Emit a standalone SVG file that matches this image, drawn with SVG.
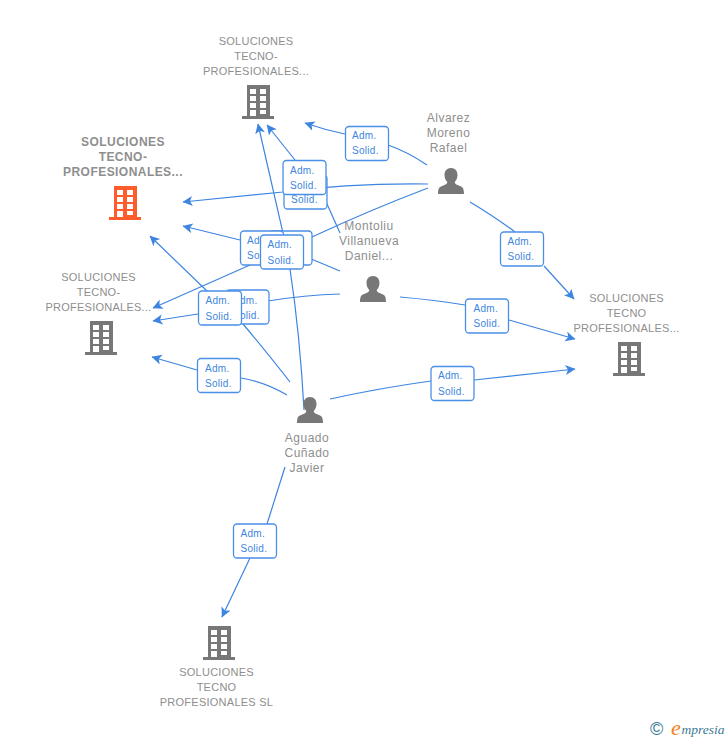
<svg xmlns="http://www.w3.org/2000/svg" width="728" height="740" viewBox="0 0 728 740">
<style>
text{font-family:"Liberation Sans",Arial,sans-serif}
.n{font-size:11px;fill:#8e8e8e;text-anchor:middle;letter-spacing:.25px}
.r{font-size:12px;font-weight:bold;letter-spacing:.45px}
.p{font-size:12px;fill:#8e8e8e;text-anchor:middle;letter-spacing:.5px}
.e{fill:none;stroke:#3d85e0;stroke-width:1.2;marker-end:url(#a)}
.s{fill:none;stroke:#3d85e0;stroke-width:1.2}
.b{fill:#fff;stroke:#4a8fe6;stroke-width:1.3}
.l{font-size:10px;fill:#3d85e0;letter-spacing:.3px}
.g{fill:#777}
.o{fill:#ff5c2e}
</style>
<defs>
<marker id="a" markerUnits="userSpaceOnUse" markerWidth="12" markerHeight="12" refX="9.5" refY="5" orient="auto"><path d="M0 0L10 5L0 10L2.500 5Z" fill="#3d85e0"/></marker>
<path id="bld" fill-rule="evenodd" d="M5 0H28V31H32V34H0V31H5ZM8 4V9H14V4ZM18 4V9H24V4ZM8 11V16H14V11ZM18 11V16H24V11ZM8 18V23H14V18ZM18 18V23H24V18ZM8 25V31H14V25ZM18 25V29H24V25Z"/>
<path id="per" d="M13 0C17.200 0 19.500 3.200 19.500 7C19.500 10.200 18.100 12.500 16.700 14C16.700 15.800 18.600 16.700 21.400 17.700C24.600 18.900 26 20 26 26H0C0 20 1.400 18.900 4.600 17.700C7.400 16.700 9.300 15.800 9.300 14C7.900 12.500 6.500 10.200 6.500 7C6.500 3.200 8.800 0 13 0Z"/>
</defs>
<g id="connectors">
<path class="s" d="M427 165Q408 152 388 145"/><path class="e" d="M345 134Q325 130 305 123"/>
<path class="e" d="M428 184Q350 183 283 192L183 202"/>
<path class="e" d="M428 188Q370 210 312 237L250 265L153 308"/>
<path class="s" d="M470 202Q495 217 515 232"/><path class="e" d="M544 266L574 299"/>
<path class="s" d="M340 233L323 195"/><path class="e" d="M295 160L267 125"/>
<path class="s" d="M340 271L304 256"/><path class="e" d="M240 240L183 226"/>
<path class="s" d="M340 294Q305 295 268 301"/><path class="e" d="M198 314L153 321"/>
<path class="s" d="M400 297Q435 300 465 305"/><path class="e" d="M509 320L575 339"/>
<path class="e" d="M304 410Q300 335 290 269L283 233L258 124"/>
<path class="s" d="M290 382Q265 350 243 324"/><path class="e" d="M207 291L150 236"/>
<path class="s" d="M287 395Q265 382 241 378"/><path class="e" d="M197 370L152 357"/>
<path class="s" d="M330 399Q380 388 431 381"/><path class="e" d="M474 380L575 369"/>
<path class="s" d="M285 467L267 524"/><path class="e" d="M250 558L222 617"/>
</g>
<g id="labels">
<g id="l1"><rect class="b" x="345.500" y="126.500" width="43" height="34" rx="3.500"/><text class="l" x="352" y="139">Adm.</text><text class="l" x="352" y="154">Solid.</text></g>
<g id="l2"><rect class="b" x="284" y="175" width="43" height="34" rx="3.500"/><text class="l" x="291" y="188">Adm.</text><text class="l" x="291" y="203">Solid.</text></g>
<g id="l3"><rect class="b" x="283" y="160.500" width="43" height="34" rx="3.500"/><text class="l" x="290" y="174">Adm.</text><text class="l" x="290" y="189">Solid.</text></g>
<g id="l4"><rect class="b" x="269" y="231" width="43" height="34" rx="3.500"/></g>
<g id="l5"><rect class="b" x="240.500" y="231" width="43" height="34" rx="3.500"/><text class="l" x="247" y="244">Adm.</text><text class="l" x="247" y="259">Solid.</text></g>
<g id="l6"><rect class="b" x="260.500" y="235" width="43" height="34" rx="3.500"/><text class="l" x="267.500" y="248">Adm.</text><text class="l" x="267.500" y="264">Solid.</text></g>
<g id="l7"><rect class="b" x="226" y="290" width="43" height="34" rx="3.500"/><text class="l" x="233" y="304">Adm.</text><text class="l" x="233" y="319">Solid.</text></g>
<g id="l8"><rect class="b" x="198.500" y="291" width="43" height="34" rx="3.500"/><text class="l" x="205.500" y="304">Adm.</text><text class="l" x="205.500" y="320">Solid.</text></g>
<g id="l9"><rect class="b" x="197.500" y="358.500" width="43" height="34" rx="3.500"/><text class="l" x="205" y="372">Adm.</text><text class="l" x="205" y="387">Solid.</text></g>
<g id="l10"><rect class="b" x="465.500" y="299" width="43" height="34" rx="3.500"/><text class="l" x="473.500" y="312">Adm.</text><text class="l" x="473.500" y="327">Solid.</text></g>
<g id="l11"><rect class="b" x="431" y="366.500" width="43" height="34" rx="3.500"/><text class="l" x="438" y="379">Adm.</text><text class="l" x="438" y="395">Solid.</text></g>
<g id="l12"><rect class="b" x="500.500" y="232" width="43" height="34" rx="3.500"/><text class="l" x="507.500" y="245">Adm.</text><text class="l" x="507.500" y="260">Solid.</text></g>
<g id="l13"><rect class="b" x="233.500" y="524" width="43" height="34" rx="3.500"/><text class="l" x="240.500" y="537">Adm.</text><text class="l" x="240.500" y="552">Solid.</text></g>
</g>
<g id="n-top"><use href="#bld" class="g" x="242" y="85"/><text class="n" x="256" y="45">SOLUCIONES</text><text class="n" x="256" y="60">TECNO-</text><text class="n" x="256" y="75">PROFESIONALES...</text></g>
<g id="n-red"><use href="#bld" class="o" x="109" y="186"/><text class="n r" x="123" y="146">SOLUCIONES</text><text class="n r" x="123" y="161">TECNO-</text><text class="n r" x="123" y="176">PROFESIONALES...</text></g>
<g id="n-left"><use href="#bld" class="g" x="85" y="321"/><text class="n" x="98.500" y="281">SOLUCIONES</text><text class="n" x="98.500" y="296">TECNO-</text><text class="n" x="98.500" y="311">PROFESIONALES...</text></g>
<g id="n-right"><use href="#bld" class="g" x="613" y="342"/><text class="n" x="626.500" y="302">SOLUCIONES</text><text class="n" x="626.500" y="317">TECNO</text><text class="n" x="626.500" y="332">PROFESIONALES...</text></g>
<g id="n-bottom"><use href="#bld" class="g" x="203" y="626"/><text class="n" x="216.500" y="676">SOLUCIONES</text><text class="n" x="216.500" y="691">TECNO</text><text class="n" x="216.500" y="706">PROFESIONALES SL</text></g>
<g id="p-alvarez"><use href="#per" class="g" x="438" y="168"/><text class="p" x="448.500" y="122">Alvarez</text><text class="p" x="448.500" y="137">Moreno</text><text class="p" x="448.500" y="152">Rafael</text></g>
<g id="p-montoliu"><use href="#per" class="g" x="360" y="276"/><text class="p" x="369" y="230">Montoliu</text><text class="p" x="369" y="245">Villanueva</text><text class="p" x="369" y="260">Daniel...</text></g>
<g id="p-aguado"><use href="#per" class="g" x="297" y="397"/><text class="p" x="307" y="442">Aguado</text><text class="p" x="307" y="457">Cuñado</text><text class="p" x="307" y="472">Javier</text></g>
<g id="logo"><text x="650" y="735" font-size="18" fill="#3b7a94">©</text><text x="671" y="735" font-size="22" font-style="italic" fill="#f58220" style="font-family:'Liberation Serif',serif">e</text><text x="681.500" y="734" font-size="13.500" font-style="italic" fill="#3b7a94" style="font-family:'Liberation Serif',serif">mpresia</text></g>
</svg>
